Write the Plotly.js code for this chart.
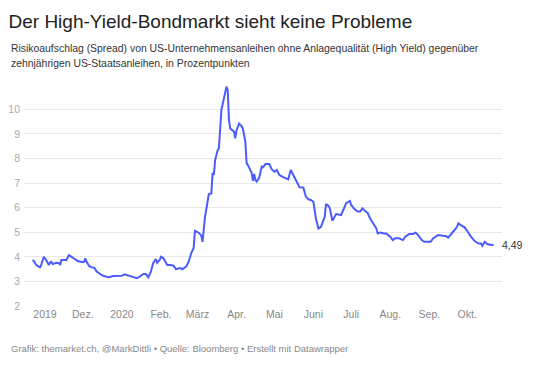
<!DOCTYPE html>
<html>
<head>
<meta charset="utf-8">
<script src="https://cdn.plot.ly/plotly-3.0.1.min.js"></script>
<style>html,body{margin:0;padding:0;background:#fff;}#chart{width:540px;height:366px;}</style>
</head>
<body>
<div id="chart"></div>
<script>
const dates = [
"2019-10-22","2019-10-23","2019-10-25","2019-10-28","2019-10-29","2019-10-31","2019-11-02","2019-11-04","2019-11-05","2019-11-06",
"2019-11-07","2019-11-10","2019-11-12","2019-11-13","2019-11-14","2019-11-17","2019-11-18","2019-11-20","2019-11-22","2019-11-25",
"2019-11-27","2019-12-01","2019-12-02","2019-12-03","2019-12-04","2019-12-06","2019-12-08","2019-12-10","2019-12-12","2019-12-14",
"2019-12-17","2019-12-20","2019-12-22","2019-12-25","2019-12-27","2020-01-01","2020-01-03","2020-01-06","2020-01-08","2020-01-11",
"2020-01-13","2020-01-15","2020-01-18","2020-01-20","2020-01-22","2020-01-24","2020-01-26","2020-01-28","2020-01-29","2020-01-31",
"2020-02-01","2020-02-03","2020-02-04","2020-02-06","2020-02-08","2020-02-11","2020-02-13","2020-02-15","2020-02-17","2020-02-18",
"2020-02-21","2020-02-23","2020-02-25","2020-02-27","2020-02-28","2020-03-02","2020-03-04","2020-03-05","2020-03-07","2020-03-09",
"2020-03-10","2020-03-12","2020-03-13","2020-03-14","2020-03-15","2020-03-17","2020-03-18","2020-03-20","2020-03-22","2020-03-24",
"2020-03-25","2020-03-26","2020-03-27","2020-03-30","2020-03-31","2020-04-01","2020-04-03","2020-04-05","2020-04-06","2020-04-08",
"2020-04-09","2020-04-10","2020-04-13","2020-04-14","2020-04-15","2020-04-16","2020-04-17","2020-04-19","2020-04-21","2020-04-22",
"2020-04-24","2020-04-27","2020-04-29","2020-05-01","2020-05-03","2020-05-05","2020-05-08","2020-05-12","2020-05-14","2020-05-16",
"2020-05-18","2020-05-21","2020-05-24","2020-05-26","2020-05-28","2020-05-30","2020-06-01","2020-06-02","2020-06-03","2020-06-05",
"2020-06-07","2020-06-10","2020-06-11","2020-06-13","2020-06-14","2020-06-16","2020-06-18","2020-06-19","2020-06-23","2020-06-25",
"2020-06-27","2020-06-30","2020-07-01","2020-07-03","2020-07-06","2020-07-08","2020-07-10","2020-07-12","2020-07-14","2020-07-16",
"2020-07-18","2020-07-21","2020-07-22","2020-07-24","2020-07-27","2020-07-29","2020-07-30","2020-08-01","2020-08-03","2020-08-05",
"2020-08-08","2020-08-11","2020-08-13","2020-08-16","2020-08-19","2020-08-21","2020-08-23","2020-08-26","2020-08-28","2020-09-02",
"2020-09-04","2020-09-06","2020-09-08","2020-09-12","2020-09-14","2020-09-16","2020-09-18","2020-09-21","2020-09-23","2020-09-24",
"2020-09-26","2020-09-29","2020-10-02","2020-10-04","2020-10-07","2020-10-10","2020-10-12","2020-10-13","2020-10-15","2020-10-17",
"2020-10-20","2020-10-22"
];
const spread = [
3.86,3.84,3.67,3.57,3.67,4.00,3.87,3.67,3.76,3.80,
3.71,3.76,3.74,3.67,3.87,3.87,3.87,4.07,4.00,3.90,
3.83,3.78,3.80,3.94,3.80,3.63,3.57,3.56,3.40,3.33,
3.23,3.19,3.17,3.22,3.23,3.23,3.29,3.25,3.22,3.17,
3.13,3.19,3.30,3.30,3.17,3.40,3.76,3.91,3.76,3.87,
4.00,3.94,3.84,3.67,3.67,3.64,3.49,3.53,3.53,3.49,
3.60,3.80,4.14,4.37,5.06,4.98,4.86,4.61,5.63,6.31,
6.55,6.58,7.42,7.33,7.93,8.34,8.41,9.97,10.44,10.92,
10.78,9.56,9.22,9.09,8.82,9.15,9.42,9.32,9.22,8.68,
7.80,7.73,7.42,7.09,7.37,7.12,7.06,7.22,7.67,7.64,
7.77,7.77,7.55,7.46,7.53,7.33,7.24,7.15,7.53,7.33,
7.12,6.83,6.82,6.45,6.34,6.31,6.24,5.90,5.56,5.15,
5.22,5.63,6.15,6.07,5.97,5.47,5.63,5.74,5.70,5.97,
6.18,6.27,6.11,5.97,5.84,5.84,5.97,5.86,5.79,5.56,
5.38,5.15,4.95,4.99,4.95,4.95,4.89,4.82,4.68,4.75,
4.75,4.68,4.82,4.93,4.93,4.98,4.89,4.68,4.61,4.61,
4.75,4.82,4.89,4.86,4.85,4.78,4.89,5.09,5.22,5.36,
5.29,5.20,4.98,4.82,4.64,4.54,4.54,4.45,4.61,4.52,
4.48,4.49
];
const tickDates = ["2019-11-01","2019-12-01","2020-01-01","2020-02-01","2020-03-01","2020-04-01","2020-05-01","2020-06-01","2020-07-01","2020-08-01","2020-09-01","2020-10-01"];
const tickLabels = ["2019","Dez.","2020","Feb.","März","Apr.","Mai","Juni","Juli","Aug.","Sep.","Okt."];
const yTicks = [2,3,4,5,6,7,8,9,10];
const lastLabel = "4,49";

const FONT = "'Liberation Sans', Arial, Helvetica, sans-serif";
const PH = 226, PW = 478, ML = 24, MT = 80;
const py = yPix => (MT + PH - yPix) / PH;   // container pixel -> paper y
const px = xPix => (xPix - ML) / PW;        // container pixel -> paper x

const trace = {
  x: dates, y: spread, type: 'scatter', mode: 'lines',
  line: {color: '#4b5cff', width: 2}, hoverinfo: 'skip'
};
const layout = {
  width: 540, height: 366,
  margin: {l: ML, r: 540 - ML - PW, t: MT, b: 366 - MT - PH},
  paper_bgcolor: '#fff', plot_bgcolor: '#fff',
  showlegend: false,
  font: {family: FONT, color: '#333'},
  title: {
    text: 'Der High-Yield-Bondmarkt sieht keine Probleme',
    x: 8.5/540, xanchor: 'left', xref: 'container',
    y: 1 - 21/366, yanchor: 'middle', yref: 'container',
    font: {family: FONT, size: 19, color: '#222'}
  },
  xaxis: {
    type: 'date',
    range: ['2019-10-15 08:00', '2020-10-28 16:00'],
    tickmode: 'array', tickvals: tickDates, ticktext: tickLabels,
    showgrid: false, zeroline: false, showline: false, ticks: '',
    tickfont: {family: FONT, size: 10.5, color: '#888'},
    fixedrange: true
  },
  yaxis: {
    range: [2, 11.19],
    tickmode: 'array', tickvals: yTicks, ticktext: yTicks.map(String),
    showgrid: true, gridcolor: '#e8e8e8', gridwidth: 1,
    zeroline: false, showline: false, ticks: '',
    tickfont: {family: FONT, size: 10.5, color: '#aaa'},
    ticklabelstandoff: 3,
    fixedrange: true
  },
  annotations: [
    {
      text: 'Risikoaufschlag (Spread) von US-Unternehmensanleihen ohne Anlagequalität (High Yield) gegenüber',
      xref: 'paper', yref: 'paper', x: px(8.5), y: py(49),
      xanchor: 'left', yanchor: 'middle', align: 'left', showarrow: false,
      font: {family: FONT, size: 10.4, color: '#333'}
    },
    {
      text: 'zehnjährigen US-Staatsanleihen, in Prozentpunkten',
      xref: 'paper', yref: 'paper', x: px(8.5), y: py(63.5),
      xanchor: 'left', yanchor: 'middle', align: 'left', showarrow: false,
      font: {family: FONT, size: 10.4, color: '#333'}
    },
    {
      text: 'Grafik: themarket.ch, @MarkDittli • Quelle: Bloomberg • Erstellt mit Datawrapper',
      xref: 'paper', yref: 'paper', x: px(8.5), y: py(348),
      xanchor: 'left', yanchor: 'middle', align: 'left', showarrow: false,
      font: {family: FONT, size: 9.5, color: '#888'}
    },
    {
      text: lastLabel,
      xref: 'x', yref: 'y', x: dates[dates.length-1], y: spread[spread.length-1],
      xanchor: 'left', yanchor: 'middle', xshift: 6, showarrow: false,
      font: {family: FONT, size: 10.5, color: '#333'}
    }
  ]
};
Plotly.newPlot('chart', [trace], layout, {displayModeBar: false, staticPlot: true});
</script>
</body>
</html>
